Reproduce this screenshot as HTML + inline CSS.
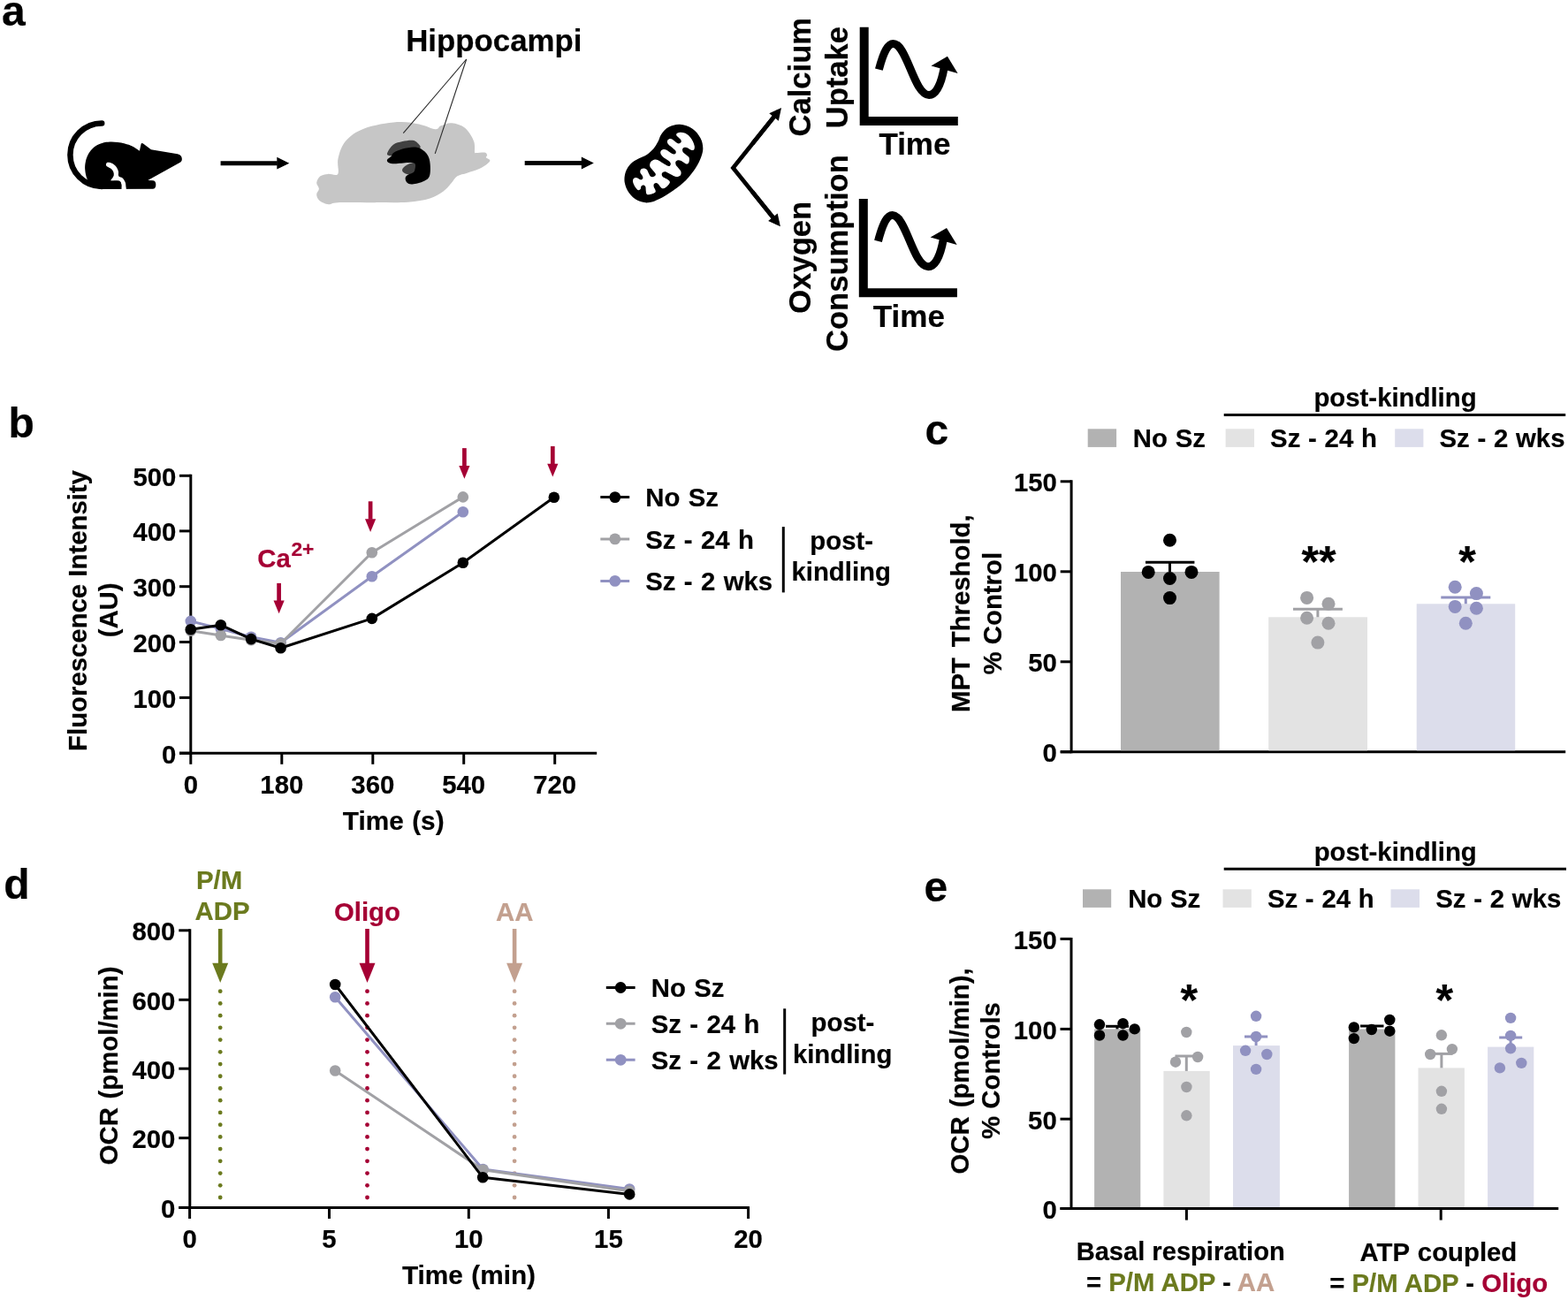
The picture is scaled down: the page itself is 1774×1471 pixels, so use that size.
<!DOCTYPE html>
<html lang="en">
<head>
<meta charset="utf-8">
<title>Figure: mitochondrial calcium uptake and oxygen consumption</title>
<style>
html,body{margin:0;padding:0;background:#fff;}
body{width:1774px;height:1471px;overflow:hidden;}
svg{display:block;}
svg text{font-family:"Liberation Sans", sans-serif;font-weight:bold;stroke-width:0.2px;stroke-linejoin:round;}
</style>
</head>
<body>
<svg width="1774" height="1471" viewBox="0 0 1774 1471">
<rect width="1774" height="1471" fill="#fff"/>
<text x="1.90" y="28.50" font-size="48" text-anchor="start" fill="#000" stroke="#000">a</text>
<text x="9.50" y="495.00" font-size="48" text-anchor="start" fill="#000" stroke="#000">b</text>
<text x="1046.50" y="502.50" font-size="48" text-anchor="start" fill="#000" stroke="#000">c</text>
<text x="4.30" y="1016.90" font-size="48" text-anchor="start" fill="#000" stroke="#000">d</text>
<text x="1045.60" y="1019.80" font-size="48" text-anchor="start" fill="#000" stroke="#000">e</text>
<path d="M115.2,139.4 A35.8,35.8 0 0 0 115.2,211" fill="none" stroke="#000" stroke-width="6.5" stroke-linecap="round"/>
<path d="M114.11,214.07 C112.61,213.57 107.65,212.94 105.10,211.09 C102.54,209.24 100.26,206.13 98.78,202.98 C97.31,199.82 96.59,195.46 96.26,192.15 C95.93,188.85 96.15,186.14 96.80,183.13 C97.44,180.13 98.53,176.90 100.14,174.11 C101.74,171.33 103.89,168.48 106.45,166.45 C109.00,164.42 112.46,162.92 115.47,161.94 C118.47,160.96 121.56,160.74 124.49,160.59 C127.42,160.44 130.27,160.71 133.06,161.04 C135.84,161.37 138.32,161.79 141.17,162.57 C144.03,163.35 147.41,164.37 150.19,165.73 C152.97,167.08 156.58,169.86 157.86,170.69 L159.48,163.47 Q159.88,161.34 162.00,162.54 L170.94,169.15 L199.35,173.93 C203.85,174.73 205.84,176.48 205.84,179.98 C205.84,182.48 204.95,183.02 202.95,184.22 L167.33,203.88 L172.74,204.33 Q176.35,204.33 176.35,209.02 Q176.35,213.80 172.74,213.80 L114.11,214.07 Z" fill="#000"/>
<path d="M122.41,183.86 C123.57,183.89 125.64,184.26 127.19,185.12 C128.74,185.98 130.57,187.52 131.70,189.00 C132.83,190.47 133.54,192.26 133.96,193.96 C134.38,195.66 133.45,197.94 134.23,199.19 C135.01,200.44 137.40,200.29 138.65,201.44 C139.89,202.60 141.08,204.52 141.71,206.13 C142.34,207.74 142.31,209.67 142.44,211.09 C142.56,212.52 143.19,214.10 142.44,214.70 C141.68,215.30 138.74,215.45 137.93,214.70 C137.11,213.95 137.78,211.51 137.56,210.19 C137.35,208.87 137.14,207.67 136.66,206.76 C136.18,205.86 135.73,205.17 134.68,204.78 C133.63,204.39 131.91,204.45 130.35,204.42 C128.79,204.39 125.82,205.07 125.30,204.60 C124.77,204.13 126.62,202.65 127.19,201.62 C127.76,200.60 128.53,199.59 128.73,198.47 C128.92,197.34 128.77,196.03 128.37,194.86 C127.96,193.69 127.24,192.36 126.29,191.43 C125.34,190.50 123.69,189.93 122.68,189.27 C121.68,188.61 120.65,188.18 120.25,187.46 C119.84,186.74 119.89,185.54 120.25,184.94 C120.61,184.34 121.26,183.83 122.41,183.86Z" fill="#fff"/>
<path d="M114.11,204.51 L133.51,204.51 Q137.29,204.51 137.29,209.29 Q137.29,214.07 133.51,214.07 L114.11,214.07 Z" fill="#000"/>
<line x1="249.60" y1="184.70" x2="313.80" y2="184.70" stroke="#000" stroke-width="4.9" stroke-linecap="butt"/>
<polygon points="313.30,177.80 327.30,184.70 313.30,191.60" fill="#000"/>
<line x1="593.70" y1="184.50" x2="658.30" y2="184.50" stroke="#000" stroke-width="4.9" stroke-linecap="butt"/>
<polygon points="657.80,177.60 671.80,184.50 657.80,191.40" fill="#000"/>
<path d="M382.24,196.89 C384.15,194.00 381.04,185.73 382.49,179.53 C383.94,173.33 386.01,165.37 390.92,159.68 C395.84,154.00 402.29,149.02 412.01,145.42 C421.72,141.83 438.88,138.93 449.21,138.11 C459.55,137.28 466.78,139.10 474.01,140.46 C481.25,141.83 488.48,145.98 492.62,146.29 C496.75,146.60 495.72,143.50 498.82,142.32 C501.92,141.14 506.67,138.81 511.22,139.22 C515.77,139.64 521.97,141.39 526.10,144.80 C530.23,148.21 534.20,155.14 536.02,159.68 C537.84,164.23 536.60,169.85 537.01,172.09 C537.43,174.32 536.60,173.00 538.50,173.08 C540.40,173.16 546.31,172.17 548.42,172.58 C550.53,173.00 550.90,174.61 551.15,175.56 C551.40,176.51 549.37,177.32 549.91,178.29 C550.45,179.26 554.21,180.15 554.38,181.39 C554.54,182.63 552.93,184.14 550.90,185.73 C548.88,187.32 545.94,189.28 542.22,190.94 C538.50,192.59 532.71,194.24 528.58,195.65 C524.45,197.05 520.52,197.30 517.42,199.37 C514.32,201.44 512.67,205.16 509.98,208.05 C507.29,210.94 505.22,214.00 501.30,216.73 C497.37,219.46 493.03,222.41 486.42,224.42 C479.80,226.42 471.95,227.97 461.61,228.76 C451.28,229.55 437.64,229.07 424.41,229.13 C411.18,229.19 391.03,228.78 382.24,229.13 C373.46,229.48 375.22,231.65 371.70,231.24 C368.19,230.83 363.41,228.55 361.16,226.65 C358.91,224.75 358.23,222.00 358.18,219.83 C358.14,217.66 360.91,215.80 360.91,213.63 C360.91,211.46 357.94,209.19 358.18,206.81 C358.43,204.43 360.25,201.02 362.40,199.37 C364.55,197.72 367.78,197.30 371.08,196.89 C374.39,196.48 380.34,199.78 382.24,196.89Z" fill="#C6C6C6"/>
<path d="M438.30,172.71 C439.23,170.68 442.02,165.78 444.87,163.65 C447.72,161.52 451.79,160.76 455.41,159.93 C459.03,159.11 463.78,158.42 466.57,158.69 C469.36,158.96 470.71,160.04 472.15,161.54 C473.60,163.05 477.01,165.99 475.25,167.75 C473.50,169.50 466.78,170.74 461.61,172.09 C456.45,173.43 447.97,175.19 444.25,175.81 C440.53,176.43 440.28,176.32 439.29,175.81 C438.30,175.29 437.37,174.73 438.30,172.71Z" fill="#414141"/>
<path d="M455.41,190.94 C456.28,189.43 459.17,187.05 461.61,185.98 C464.05,184.90 468.64,183.08 470.05,184.49 C471.45,185.89 471.35,192.30 470.05,194.41 C468.74,196.52 464.51,197.03 462.23,197.14 C459.96,197.24 457.54,196.06 456.40,195.03 C455.27,194.00 454.54,192.44 455.41,190.94Z" fill="#414141"/>
<path d="M438.05,180.77 C438.53,179.61 441.15,178.39 442.39,177.05 C443.63,175.70 443.32,174.11 445.49,172.71 C447.66,171.30 451.69,169.65 455.41,168.61 C459.13,167.58 464.30,166.51 467.81,166.51 C471.33,166.51 473.81,167.06 476.49,168.61 C479.18,170.16 482.24,172.95 483.94,175.81 C485.63,178.66 486.33,181.80 486.66,185.73 C486.99,189.65 487.10,196.17 485.92,199.37 C484.74,202.57 482.82,203.44 479.59,204.95 C476.37,206.46 469.78,208.17 466.57,208.42 C463.37,208.67 461.70,207.64 460.37,206.44 C459.05,205.24 458.43,202.68 458.64,201.23 C458.84,199.78 460.08,198.79 461.61,197.76 C463.14,196.72 466.45,196.37 467.81,195.03 C469.18,193.69 469.59,191.41 469.80,189.70 C470.00,187.98 470.42,185.69 469.05,184.74 C467.69,183.78 465.33,183.91 461.61,183.99 C457.89,184.07 450.41,185.23 446.73,185.23 C443.05,185.23 440.99,184.74 439.54,183.99 C438.09,183.25 437.57,181.92 438.05,180.77Z" fill="#000"/>
<line x1="527.70" y1="67.00" x2="456.30" y2="150.60" stroke="#2a2a2a" stroke-width="1.1" stroke-linecap="butt"/>
<line x1="527.70" y1="67.00" x2="492.20" y2="173.90" stroke="#2a2a2a" stroke-width="1.1" stroke-linecap="butt"/>
<text x="459.20" y="57.90" font-size="34.85" text-anchor="start" fill="#000" stroke="#000">Hippocampi</text>
<path d="M769.29,140.85 C773.78,141.16 779.64,143.15 783.50,145.71 C787.36,148.26 790.51,152.56 792.48,156.18 C794.45,159.80 795.19,163.78 795.32,167.40 C795.44,171.02 794.57,174.13 793.22,177.87 C791.88,181.61 790.11,185.48 787.24,189.84 C784.37,194.20 780.38,199.69 776.02,204.05 C771.66,208.42 766.05,212.53 761.06,216.02 C756.07,219.51 750.71,222.78 746.10,225.00 C741.49,227.21 737.50,229.02 733.38,229.33 C729.27,229.65 725.03,228.71 721.42,226.87 C717.80,225.02 714.15,221.69 711.69,218.26 C709.24,214.84 707.30,210.29 706.68,206.30 C706.06,202.31 706.74,197.88 707.95,194.33 C709.16,190.77 711.44,187.47 713.94,184.98 C716.43,182.48 719.92,181.05 722.91,179.37 C725.90,177.68 729.15,176.75 731.89,174.88 C734.63,173.01 737.25,170.64 739.37,168.15 C741.49,165.65 743.11,162.66 744.60,159.92 C746.10,157.18 746.35,154.37 748.34,151.69 C750.34,149.01 753.08,145.65 756.57,143.84 C760.06,142.03 764.80,140.53 769.29,140.85Z" fill="#000"/>
<path d="M765.55,151.32 C766.20,150.76 767.79,149.95 769.29,149.82 C770.78,149.70 772.78,149.88 774.52,150.57 C776.27,151.26 778.26,152.50 779.76,153.94 C781.26,155.37 782.50,157.30 783.50,159.17 C784.50,161.04 785.43,163.54 785.74,165.16 C786.06,166.78 785.74,168.09 785.37,168.90 C785.00,169.71 784.31,170.02 783.50,170.02 C782.69,170.02 781.63,169.39 780.51,168.90 C779.39,168.40 777.89,167.34 776.77,167.03 C775.65,166.71 774.55,166.71 773.78,167.03 C773.00,167.34 772.32,168.09 772.13,168.90 C771.94,169.71 772.01,170.89 772.65,171.89 C773.30,172.89 774.90,173.88 776.02,174.88 C777.14,175.88 778.76,176.63 779.39,177.87 C780.01,179.12 779.95,181.11 779.76,182.36 C779.57,183.61 779.01,184.92 778.26,185.35 C777.52,185.79 776.52,185.54 775.27,184.98 C774.03,184.42 772.16,182.61 770.78,181.99 C769.41,181.36 768.10,181.05 767.04,181.24 C765.98,181.42 764.80,182.17 764.43,183.11 C764.05,184.04 764.24,185.60 764.80,186.85 C765.36,188.09 766.86,189.34 767.79,190.59 C768.73,191.83 770.04,193.08 770.41,194.33 C770.78,195.57 770.60,197.13 770.04,198.07 C769.47,199.00 768.17,199.69 767.04,199.94 C765.92,200.19 764.92,200.12 763.30,199.56 C761.68,199.00 759.07,197.44 757.32,196.57 C755.57,195.70 754.08,194.58 752.83,194.33 C751.59,194.08 750.53,194.58 749.84,195.08 C749.15,195.57 748.72,196.51 748.72,197.32 C748.72,198.13 748.90,199.07 749.84,199.94 C750.77,200.81 753.08,201.75 754.33,202.56 C755.57,203.37 756.76,204.05 757.32,204.80 C757.88,205.55 758.07,206.11 757.69,207.04 C757.32,207.98 756.14,209.41 755.08,210.41 C754.02,211.41 752.46,212.65 751.34,213.03 C750.21,213.40 749.22,213.15 748.34,212.65 C747.47,212.16 746.79,210.85 746.10,210.04 C745.41,209.23 744.92,208.29 744.23,207.79 C743.54,207.29 742.73,206.92 741.99,207.04 C741.24,207.17 740.12,207.79 739.74,208.54 C739.37,209.29 739.49,210.53 739.74,211.53 C739.99,212.53 740.93,213.59 741.24,214.52 C741.55,215.46 742.05,216.39 741.61,217.14 C741.18,217.89 739.87,218.49 738.62,219.01 C737.37,219.54 735.32,220.22 734.13,220.28 C732.95,220.35 732.07,220.10 731.51,219.39 C730.95,218.68 730.95,217.33 730.77,216.02 C730.58,214.71 730.70,212.59 730.39,211.53 C730.08,210.47 729.52,209.97 728.90,209.66 C728.27,209.35 727.28,209.35 726.65,209.66 C726.03,209.97 725.47,210.85 725.16,211.53 C724.84,212.22 725.16,213.18 724.78,213.78 C724.41,214.37 723.60,215.06 722.91,215.12 C722.23,215.18 721.54,215.00 720.67,214.15 C719.80,213.30 718.45,211.47 717.68,210.04 C716.90,208.60 716.22,206.79 716.03,205.55 C715.84,204.30 716.09,203.30 716.55,202.56 C717.02,201.81 717.99,201.25 718.80,201.06 C719.61,200.87 720.61,201.12 721.42,201.43 C722.23,201.75 722.91,202.62 723.66,202.93 C724.41,203.24 725.28,203.55 725.90,203.30 C726.53,203.05 727.28,202.18 727.40,201.43 C727.52,200.69 727.13,199.75 726.65,198.82 C726.18,197.88 724.93,196.76 724.56,195.82 C724.18,194.89 724.18,194.02 724.41,193.21 C724.63,192.40 725.16,191.42 725.90,190.96 C726.65,190.50 727.90,190.25 728.90,190.44 C729.89,190.63 731.08,191.19 731.89,192.08 C732.70,192.98 733.13,194.64 733.76,195.82 C734.38,197.01 734.88,198.44 735.63,199.19 C736.38,199.94 737.31,200.37 738.25,200.31 C739.18,200.25 740.68,199.44 741.24,198.82 C741.80,198.19 742.05,197.57 741.61,196.57 C741.18,195.57 739.62,194.08 738.62,192.83 C737.62,191.59 736.19,190.28 735.63,189.09 C735.07,187.91 735.00,186.85 735.25,185.73 C735.50,184.60 736.19,183.23 737.12,182.36 C738.06,181.49 739.62,180.68 740.86,180.49 C742.11,180.30 743.11,180.55 744.60,181.24 C746.10,181.92 748.22,183.61 749.84,184.60 C751.46,185.60 753.08,186.66 754.33,187.22 C755.57,187.78 756.57,188.22 757.32,187.97 C758.07,187.72 758.75,186.54 758.82,185.73 C758.88,184.92 758.57,184.04 757.69,183.11 C756.82,182.17 755.01,181.24 753.58,180.12 C752.15,178.99 750.15,177.56 749.09,176.38 C748.03,175.19 747.35,174.07 747.22,173.01 C747.10,171.95 747.66,170.70 748.34,170.02 C749.03,169.33 750.28,168.90 751.34,168.90 C752.40,168.90 753.46,169.33 754.70,170.02 C755.95,170.70 757.57,172.26 758.82,173.01 C760.06,173.76 761.25,174.44 762.18,174.51 C763.12,174.57 764.05,174.01 764.43,173.38 C764.80,172.76 764.99,171.76 764.43,170.77 C763.86,169.77 762.37,168.58 761.06,167.40 C759.75,166.22 757.59,164.78 756.57,163.66 C755.55,162.54 755.05,161.60 754.93,160.67 C754.80,159.73 755.18,158.67 755.82,158.05 C756.47,157.43 757.82,156.87 758.82,156.93 C759.81,156.99 760.81,157.74 761.81,158.42 C762.81,159.11 763.80,160.36 764.80,161.04 C765.80,161.73 766.86,162.54 767.79,162.54 C768.73,162.54 769.97,161.73 770.41,161.04 C770.85,160.36 770.97,159.42 770.41,158.42 C769.85,157.43 767.88,155.93 767.04,155.06 C766.21,154.19 765.65,153.81 765.40,153.19 C765.15,152.56 764.90,151.88 765.55,151.32Z" fill="#fff"/>
<path d="M881,125.5 L829.4,190 L880,252.8" fill="none" stroke="#000" stroke-width="4.7" stroke-linejoin="miter"/>
<line x1="851.40" y1="162.50" x2="875.86" y2="132.04" stroke="#000" stroke-width="4.7" stroke-linecap="butt"/>
<polygon points="880.85,136.68 884.00,121.90 870.25,128.17" fill="#000"/>
<line x1="851.20" y1="217.10" x2="874.73" y2="246.19" stroke="#000" stroke-width="4.7" stroke-linecap="butt"/>
<polygon points="869.12,250.08 882.90,256.30 879.70,241.53" fill="#000"/>
<path d="M977.70,30.70 V137.05 H1083.80" fill="none" stroke="#000" stroke-width="10"/>
<path d="M994.40,78.70 C1000.00,57.00 1005.00,49.40 1010.60,49.40 C1026.00,49.40 1034.00,107.50 1051.10,107.50 C1060.00,107.50 1065.50,92.00 1068.30,76.00" fill="none" stroke="#000" stroke-width="9"/>
<polygon points="1071.90,63.80 1053.50,74.40 1083.60,82.90" fill="#000"/>
<path d="M976.80,224.90 V331.25 H1082.90" fill="none" stroke="#000" stroke-width="10"/>
<path d="M993.50,272.90 C999.10,251.20 1004.10,243.60 1009.70,243.60 C1025.10,243.60 1033.10,301.70 1050.20,301.70 C1059.10,301.70 1064.60,286.20 1067.40,270.20" fill="none" stroke="#000" stroke-width="9"/>
<polygon points="1071.00,258.00 1052.60,268.60 1082.70,277.10" fill="#000"/>
<text x="994.40" y="175.30" font-size="35" text-anchor="start" fill="#000" stroke="#000">Time</text>
<text x="987.80" y="370.30" font-size="35" text-anchor="start" fill="#000" stroke="#000">Time</text>
<text transform="translate(917.30 154.50) rotate(-90)" font-size="34.6" text-anchor="start" fill="#000" stroke="#000">Calcium</text>
<text transform="translate(958.70 145.30) rotate(-90)" font-size="34.6" text-anchor="start" fill="#000" stroke="#000">Uptake</text>
<text transform="translate(916.70 354.70) rotate(-90)" font-size="34.6" text-anchor="start" fill="#000" stroke="#000">Oxygen</text>
<text transform="translate(958.80 398.00) rotate(-90)" font-size="34.6" text-anchor="start" fill="#000" stroke="#000">Consumption</text>
<line x1="215.80" y1="536.80" x2="215.80" y2="853.70" stroke="#000" stroke-width="3" stroke-linecap="butt"/>
<line x1="203.00" y1="538.30" x2="215.80" y2="538.30" stroke="#000" stroke-width="3" stroke-linecap="butt"/>
<text transform="translate(199.30 549.75) scale(1 1.02)" font-size="29.33" text-anchor="end" fill="#000" stroke="#000">500</text>
<line x1="203.00" y1="600.90" x2="215.80" y2="600.90" stroke="#000" stroke-width="3" stroke-linecap="butt"/>
<text transform="translate(199.30 612.35) scale(1 1.02)" font-size="29.33" text-anchor="end" fill="#000" stroke="#000">400</text>
<line x1="203.00" y1="663.70" x2="215.80" y2="663.70" stroke="#000" stroke-width="3" stroke-linecap="butt"/>
<text transform="translate(199.30 675.15) scale(1 1.02)" font-size="29.33" text-anchor="end" fill="#000" stroke="#000">300</text>
<line x1="203.00" y1="726.50" x2="215.80" y2="726.50" stroke="#000" stroke-width="3" stroke-linecap="butt"/>
<text transform="translate(199.30 737.95) scale(1 1.02)" font-size="29.33" text-anchor="end" fill="#000" stroke="#000">200</text>
<line x1="203.00" y1="789.40" x2="215.80" y2="789.40" stroke="#000" stroke-width="3" stroke-linecap="butt"/>
<text transform="translate(199.30 800.85) scale(1 1.02)" font-size="29.33" text-anchor="end" fill="#000" stroke="#000">100</text>
<line x1="203.00" y1="852.20" x2="215.80" y2="852.20" stroke="#000" stroke-width="3" stroke-linecap="butt"/>
<text transform="translate(199.30 863.65) scale(1 1.02)" font-size="29.33" text-anchor="end" fill="#000" stroke="#000">0</text>
<line x1="203.00" y1="852.20" x2="675.20" y2="852.20" stroke="#000" stroke-width="3" stroke-linecap="butt"/>
<line x1="215.80" y1="852.20" x2="215.80" y2="864.80" stroke="#000" stroke-width="3" stroke-linecap="butt"/>
<text transform="translate(215.80 897.60) scale(1 1.02)" font-size="29.33" text-anchor="middle" fill="#000" stroke="#000">0</text>
<line x1="318.80" y1="852.20" x2="318.80" y2="864.80" stroke="#000" stroke-width="3" stroke-linecap="butt"/>
<text transform="translate(318.80 897.60) scale(1 1.02)" font-size="29.33" text-anchor="middle" fill="#000" stroke="#000">180</text>
<line x1="421.80" y1="852.20" x2="421.80" y2="864.80" stroke="#000" stroke-width="3" stroke-linecap="butt"/>
<text transform="translate(421.80 897.60) scale(1 1.02)" font-size="29.33" text-anchor="middle" fill="#000" stroke="#000">360</text>
<line x1="524.70" y1="852.20" x2="524.70" y2="864.80" stroke="#000" stroke-width="3" stroke-linecap="butt"/>
<text transform="translate(524.70 897.60) scale(1 1.02)" font-size="29.33" text-anchor="middle" fill="#000" stroke="#000">540</text>
<line x1="627.70" y1="852.20" x2="627.70" y2="864.80" stroke="#000" stroke-width="3" stroke-linecap="butt"/>
<text transform="translate(627.70 897.60) scale(1 1.02)" font-size="29.33" text-anchor="middle" fill="#000" stroke="#000">720</text>
<text x="445.20" y="939.20" font-size="29.75" text-anchor="middle" fill="#000" stroke="#000" word-spacing="1.2">Time (s)</text>
<text transform="translate(97.50 691.00) rotate(-90)" font-size="29.33" text-anchor="middle" fill="#000" stroke="#000">Fluorescence Intensity</text>
<text transform="translate(133.00 690.40) rotate(-90)" font-size="29.33" text-anchor="middle" fill="#000" stroke="#000">(AU)</text>
<polyline points="215.80,702.90 249.80,711.50 284.10,720.80 317.60,727.20 420.80,652.30 523.80,579.30" fill="none" stroke="#9091C1" stroke-width="3" stroke-linejoin="round"/>
<circle cx="215.80" cy="702.90" r="6.3" fill="#9091C1"/>
<circle cx="249.80" cy="711.50" r="6.3" fill="#9091C1"/>
<circle cx="284.10" cy="720.80" r="6.3" fill="#9091C1"/>
<circle cx="317.60" cy="727.20" r="6.3" fill="#9091C1"/>
<circle cx="420.80" cy="652.30" r="6.3" fill="#9091C1"/>
<circle cx="523.80" cy="579.30" r="6.3" fill="#9091C1"/>
<polyline points="215.80,713.80 249.80,719.00 284.10,724.30 317.60,728.30 420.80,625.20 523.80,562.40" fill="none" stroke="#A1A1A5" stroke-width="3" stroke-linejoin="round"/>
<circle cx="215.80" cy="713.80" r="6.3" fill="#A1A1A5"/>
<circle cx="249.80" cy="719.00" r="6.3" fill="#A1A1A5"/>
<circle cx="284.10" cy="724.30" r="6.3" fill="#A1A1A5"/>
<circle cx="317.60" cy="728.30" r="6.3" fill="#A1A1A5"/>
<circle cx="420.80" cy="625.20" r="6.3" fill="#A1A1A5"/>
<circle cx="523.80" cy="562.40" r="6.3" fill="#A1A1A5"/>
<polyline points="215.80,712.30 249.80,707.20 284.10,723.10 317.60,733.30 420.80,699.90 523.80,636.80 626.80,562.80" fill="none" stroke="#000" stroke-width="3" stroke-linejoin="round"/>
<circle cx="215.80" cy="712.30" r="6.3" fill="#000"/>
<circle cx="249.80" cy="707.20" r="6.3" fill="#000"/>
<circle cx="284.10" cy="723.10" r="6.3" fill="#000"/>
<circle cx="317.60" cy="733.30" r="6.3" fill="#000"/>
<circle cx="420.80" cy="699.90" r="6.3" fill="#000"/>
<circle cx="523.80" cy="636.80" r="6.3" fill="#000"/>
<circle cx="626.80" cy="562.80" r="6.3" fill="#000"/>
<line x1="315.60" y1="659.90" x2="315.60" y2="680.00" stroke="#A50034" stroke-width="4.7" stroke-linecap="butt"/>
<polygon points="309.50,679.50 321.70,679.50 315.60,694.30" fill="#A50034"/>
<line x1="419.10" y1="567.30" x2="419.10" y2="587.70" stroke="#A50034" stroke-width="4.7" stroke-linecap="butt"/>
<polygon points="413.00,587.20 425.20,587.20 419.10,602.00" fill="#A50034"/>
<line x1="525.40" y1="507.10" x2="525.40" y2="527.50" stroke="#A50034" stroke-width="4.7" stroke-linecap="butt"/>
<polygon points="519.30,527.00 531.50,527.00 525.40,541.80" fill="#A50034"/>
<line x1="625.30" y1="504.90" x2="625.30" y2="525.30" stroke="#A50034" stroke-width="4.7" stroke-linecap="butt"/>
<polygon points="619.20,524.80 631.40,524.80 625.30,539.60" fill="#A50034"/>
<text x="291.3" y="642.4" font-size="29.33" fill="#A50034" stroke="#A50034">Ca<tspan font-size="22.8" dx="0.6" dy="-13.9">2+</tspan></text>
<line x1="679.30" y1="562.60" x2="712.20" y2="562.60" stroke="#000" stroke-width="3" stroke-linecap="butt"/>
<circle cx="695.80" cy="562.60" r="6.4" fill="#000"/>
<line x1="679.30" y1="609.90" x2="712.20" y2="609.90" stroke="#A1A1A5" stroke-width="3" stroke-linecap="butt"/>
<circle cx="695.80" cy="609.90" r="6.4" fill="#A1A1A5"/>
<line x1="679.30" y1="657.40" x2="712.20" y2="657.40" stroke="#9091C1" stroke-width="3" stroke-linecap="butt"/>
<circle cx="695.80" cy="657.40" r="6.4" fill="#9091C1"/>
<text x="730.30" y="573.00" font-size="29.33" text-anchor="start" fill="#000" stroke="#000" word-spacing="1.2">No Sz</text>
<text x="730.30" y="620.60" font-size="29.33" text-anchor="start" fill="#000" stroke="#000" word-spacing="1.2">Sz - 24 h</text>
<text x="730.30" y="667.70" font-size="29.33" text-anchor="start" fill="#000" stroke="#000" word-spacing="1.2">Sz - 2 wks</text>
<line x1="886.30" y1="596.10" x2="886.30" y2="670.40" stroke="#000" stroke-width="3" stroke-linecap="butt"/>
<text x="952.20" y="621.60" font-size="29.33" text-anchor="middle" fill="#000" stroke="#000">post-</text>
<text x="951.70" y="657.00" font-size="29.33" text-anchor="middle" fill="#000" stroke="#000">kindling</text>
<rect x="1230.70" y="485.30" width="32.40" height="20.60" fill="#B2B2B2"/>
<rect x="1386.60" y="485.30" width="32.40" height="20.60" fill="#E3E3E3"/>
<rect x="1578.20" y="485.30" width="32.20" height="20.60" fill="#DCDDEB"/>
<text x="1281.80" y="506.10" font-size="29.33" text-anchor="start" fill="#000" stroke="#000" word-spacing="0.6">No Sz</text>
<text x="1437.10" y="506.10" font-size="29.33" text-anchor="start" fill="#000" stroke="#000" word-spacing="0.6">Sz - 24 h</text>
<text x="1628.50" y="506.10" font-size="29.33" text-anchor="start" fill="#000" stroke="#000" word-spacing="0.6">Sz - 2 wks</text>
<line x1="1384.70" y1="469.50" x2="1771.20" y2="469.50" stroke="#000" stroke-width="3" stroke-linecap="butt"/>
<text x="1578.50" y="460.00" font-size="29.33" text-anchor="middle" fill="#000" stroke="#000">post-kindling</text>
<line x1="1212.10" y1="543.30" x2="1212.10" y2="852.30" stroke="#000" stroke-width="3" stroke-linecap="butt"/>
<line x1="1199.70" y1="544.80" x2="1212.10" y2="544.80" stroke="#000" stroke-width="3" stroke-linecap="butt"/>
<text transform="translate(1195.90 556.25) scale(1 1.02)" font-size="29.33" text-anchor="end" fill="#000" stroke="#000">150</text>
<line x1="1199.70" y1="646.80" x2="1212.10" y2="646.80" stroke="#000" stroke-width="3" stroke-linecap="butt"/>
<text transform="translate(1195.90 658.25) scale(1 1.02)" font-size="29.33" text-anchor="end" fill="#000" stroke="#000">100</text>
<line x1="1199.70" y1="748.80" x2="1212.10" y2="748.80" stroke="#000" stroke-width="3" stroke-linecap="butt"/>
<text transform="translate(1195.90 760.25) scale(1 1.02)" font-size="29.33" text-anchor="end" fill="#000" stroke="#000">50</text>
<line x1="1199.70" y1="850.80" x2="1212.10" y2="850.80" stroke="#000" stroke-width="3" stroke-linecap="butt"/>
<text transform="translate(1195.90 862.25) scale(1 1.02)" font-size="29.33" text-anchor="end" fill="#000" stroke="#000">0</text>
<line x1="1199.70" y1="850.80" x2="1771.20" y2="850.80" stroke="#000" stroke-width="3" stroke-linecap="butt"/>
<text transform="translate(1097.10 694.20) rotate(-90)" font-size="29.33" text-anchor="middle" fill="#000" stroke="#000" word-spacing="3.7">MPT Threshold,</text>
<text transform="translate(1132.80 694.20) rotate(-90)" font-size="29.33" text-anchor="middle" fill="#000" stroke="#000">% Control</text>
<rect x="1268.00" y="647.00" width="111.60" height="202.30" fill="#B2B2B2"/>
<rect x="1435.20" y="698.30" width="111.80" height="151.00" fill="#E3E3E3"/>
<rect x="1602.70" y="683.30" width="111.50" height="166.00" fill="#DCDDEB"/>
<line x1="1323.50" y1="636.20" x2="1323.50" y2="647.00" stroke="#000" stroke-width="3" stroke-linecap="butt"/>
<line x1="1296.00" y1="636.20" x2="1351.40" y2="636.20" stroke="#000" stroke-width="3" stroke-linecap="butt"/>
<line x1="1490.90" y1="689.20" x2="1490.90" y2="698.30" stroke="#A1A1A5" stroke-width="3" stroke-linecap="butt"/>
<line x1="1463.00" y1="689.20" x2="1518.90" y2="689.20" stroke="#A1A1A5" stroke-width="3" stroke-linecap="butt"/>
<line x1="1658.30" y1="676.10" x2="1658.30" y2="683.30" stroke="#9091C1" stroke-width="3" stroke-linecap="butt"/>
<line x1="1630.30" y1="676.10" x2="1686.30" y2="676.10" stroke="#9091C1" stroke-width="3" stroke-linecap="butt"/>
<circle cx="1323.50" cy="611.30" r="7.5" fill="#000"/>
<circle cx="1299.20" cy="647.40" r="7.5" fill="#000"/>
<circle cx="1348.00" cy="647.40" r="7.5" fill="#000"/>
<circle cx="1323.50" cy="654.50" r="7.5" fill="#000"/>
<circle cx="1323.50" cy="676.60" r="7.5" fill="#000"/>
<circle cx="1478.60" cy="676.40" r="7.5" fill="#A1A1A5"/>
<circle cx="1503.00" cy="683.30" r="7.5" fill="#A1A1A5"/>
<circle cx="1478.60" cy="699.20" r="7.5" fill="#A1A1A5"/>
<circle cx="1503.00" cy="705.30" r="7.5" fill="#A1A1A5"/>
<circle cx="1490.90" cy="727.10" r="7.5" fill="#A1A1A5"/>
<circle cx="1646.20" cy="664.20" r="7.5" fill="#9091C1"/>
<circle cx="1670.40" cy="671.60" r="7.5" fill="#9091C1"/>
<circle cx="1646.20" cy="686.40" r="7.5" fill="#9091C1"/>
<circle cx="1670.40" cy="688.30" r="7.5" fill="#9091C1"/>
<circle cx="1658.30" cy="705.30" r="7.5" fill="#9091C1"/>
<text x="1492.00" y="652.60" font-size="50.4" text-anchor="middle" fill="#000" stroke="#000">**</text>
<text x="1660.00" y="652.90" font-size="50.4" text-anchor="middle" fill="#000" stroke="#000">*</text>
<line x1="214.80" y1="1051.30" x2="214.80" y2="1367.90" stroke="#000" stroke-width="3" stroke-linecap="butt"/>
<line x1="202.30" y1="1052.80" x2="214.80" y2="1052.80" stroke="#000" stroke-width="3" stroke-linecap="butt"/>
<text transform="translate(198.30 1064.25) scale(1 1.02)" font-size="29.33" text-anchor="end" fill="#000" stroke="#000">800</text>
<line x1="202.30" y1="1131.30" x2="214.80" y2="1131.30" stroke="#000" stroke-width="3" stroke-linecap="butt"/>
<text transform="translate(198.30 1142.75) scale(1 1.02)" font-size="29.33" text-anchor="end" fill="#000" stroke="#000">600</text>
<line x1="202.30" y1="1209.20" x2="214.80" y2="1209.20" stroke="#000" stroke-width="3" stroke-linecap="butt"/>
<text transform="translate(198.30 1220.65) scale(1 1.02)" font-size="29.33" text-anchor="end" fill="#000" stroke="#000">400</text>
<line x1="202.30" y1="1287.70" x2="214.80" y2="1287.70" stroke="#000" stroke-width="3" stroke-linecap="butt"/>
<text transform="translate(198.30 1299.15) scale(1 1.02)" font-size="29.33" text-anchor="end" fill="#000" stroke="#000">200</text>
<line x1="202.30" y1="1366.40" x2="214.80" y2="1366.40" stroke="#000" stroke-width="3" stroke-linecap="butt"/>
<text transform="translate(198.30 1377.85) scale(1 1.02)" font-size="29.33" text-anchor="end" fill="#000" stroke="#000">0</text>
<line x1="202.30" y1="1366.40" x2="848.00" y2="1366.40" stroke="#000" stroke-width="3" stroke-linecap="butt"/>
<line x1="214.60" y1="1366.40" x2="214.60" y2="1379.00" stroke="#000" stroke-width="3" stroke-linecap="butt"/>
<text transform="translate(214.60 1411.70) scale(1 1.02)" font-size="29.33" text-anchor="middle" fill="#000" stroke="#000">0</text>
<line x1="372.50" y1="1366.40" x2="372.50" y2="1379.00" stroke="#000" stroke-width="3" stroke-linecap="butt"/>
<text transform="translate(372.50 1411.70) scale(1 1.02)" font-size="29.33" text-anchor="middle" fill="#000" stroke="#000">5</text>
<line x1="530.30" y1="1366.40" x2="530.30" y2="1379.00" stroke="#000" stroke-width="3" stroke-linecap="butt"/>
<text transform="translate(530.30 1411.70) scale(1 1.02)" font-size="29.33" text-anchor="middle" fill="#000" stroke="#000">10</text>
<line x1="688.40" y1="1366.40" x2="688.40" y2="1379.00" stroke="#000" stroke-width="3" stroke-linecap="butt"/>
<text transform="translate(688.40 1411.70) scale(1 1.02)" font-size="29.33" text-anchor="middle" fill="#000" stroke="#000">15</text>
<line x1="846.60" y1="1366.40" x2="846.60" y2="1379.00" stroke="#000" stroke-width="3" stroke-linecap="butt"/>
<text transform="translate(846.60 1411.70) scale(1 1.02)" font-size="29.33" text-anchor="middle" fill="#000" stroke="#000">20</text>
<text x="530.50" y="1453.20" font-size="29.75" text-anchor="middle" fill="#000" stroke="#000" word-spacing="1.2">Time (min)</text>
<text transform="translate(132.90 1205.90) rotate(-90)" font-size="29.33" text-anchor="middle" fill="#000" stroke="#000" word-spacing="1.5">OCR (pmol/min)</text>
<circle cx="249.20" cy="1121.70" r="2.4" fill="#6B7A1E"/>
<circle cx="249.20" cy="1135.42" r="2.4" fill="#6B7A1E"/>
<circle cx="249.20" cy="1149.15" r="2.4" fill="#6B7A1E"/>
<circle cx="249.20" cy="1162.87" r="2.4" fill="#6B7A1E"/>
<circle cx="249.20" cy="1176.59" r="2.4" fill="#6B7A1E"/>
<circle cx="249.20" cy="1190.32" r="2.4" fill="#6B7A1E"/>
<circle cx="249.20" cy="1204.04" r="2.4" fill="#6B7A1E"/>
<circle cx="249.20" cy="1217.76" r="2.4" fill="#6B7A1E"/>
<circle cx="249.20" cy="1231.49" r="2.4" fill="#6B7A1E"/>
<circle cx="249.20" cy="1245.21" r="2.4" fill="#6B7A1E"/>
<circle cx="249.20" cy="1258.94" r="2.4" fill="#6B7A1E"/>
<circle cx="249.20" cy="1272.66" r="2.4" fill="#6B7A1E"/>
<circle cx="249.20" cy="1286.38" r="2.4" fill="#6B7A1E"/>
<circle cx="249.20" cy="1300.11" r="2.4" fill="#6B7A1E"/>
<circle cx="249.20" cy="1313.83" r="2.4" fill="#6B7A1E"/>
<circle cx="249.20" cy="1327.55" r="2.4" fill="#6B7A1E"/>
<circle cx="249.20" cy="1341.28" r="2.4" fill="#6B7A1E"/>
<circle cx="249.20" cy="1355.00" r="2.4" fill="#6B7A1E"/>
<line x1="249.20" y1="1051.00" x2="249.20" y2="1090.20" stroke="#6B7A1E" stroke-width="4.6" stroke-linecap="butt"/>
<polygon points="240.20,1089.70 258.20,1089.70 249.20,1112.00" fill="#6B7A1E"/>
<circle cx="415.50" cy="1121.70" r="2.4" fill="#A50034"/>
<circle cx="415.50" cy="1135.42" r="2.4" fill="#A50034"/>
<circle cx="415.50" cy="1149.15" r="2.4" fill="#A50034"/>
<circle cx="415.50" cy="1162.87" r="2.4" fill="#A50034"/>
<circle cx="415.50" cy="1176.59" r="2.4" fill="#A50034"/>
<circle cx="415.50" cy="1190.32" r="2.4" fill="#A50034"/>
<circle cx="415.50" cy="1204.04" r="2.4" fill="#A50034"/>
<circle cx="415.50" cy="1217.76" r="2.4" fill="#A50034"/>
<circle cx="415.50" cy="1231.49" r="2.4" fill="#A50034"/>
<circle cx="415.50" cy="1245.21" r="2.4" fill="#A50034"/>
<circle cx="415.50" cy="1258.94" r="2.4" fill="#A50034"/>
<circle cx="415.50" cy="1272.66" r="2.4" fill="#A50034"/>
<circle cx="415.50" cy="1286.38" r="2.4" fill="#A50034"/>
<circle cx="415.50" cy="1300.11" r="2.4" fill="#A50034"/>
<circle cx="415.50" cy="1313.83" r="2.4" fill="#A50034"/>
<circle cx="415.50" cy="1327.55" r="2.4" fill="#A50034"/>
<circle cx="415.50" cy="1341.28" r="2.4" fill="#A50034"/>
<circle cx="415.50" cy="1355.00" r="2.4" fill="#A50034"/>
<line x1="415.50" y1="1051.00" x2="415.50" y2="1090.20" stroke="#A50034" stroke-width="4.6" stroke-linecap="butt"/>
<polygon points="406.50,1089.70 424.50,1089.70 415.50,1112.00" fill="#A50034"/>
<circle cx="582.10" cy="1121.70" r="2.4" fill="#C3A08F"/>
<circle cx="582.10" cy="1135.42" r="2.4" fill="#C3A08F"/>
<circle cx="582.10" cy="1149.15" r="2.4" fill="#C3A08F"/>
<circle cx="582.10" cy="1162.87" r="2.4" fill="#C3A08F"/>
<circle cx="582.10" cy="1176.59" r="2.4" fill="#C3A08F"/>
<circle cx="582.10" cy="1190.32" r="2.4" fill="#C3A08F"/>
<circle cx="582.10" cy="1204.04" r="2.4" fill="#C3A08F"/>
<circle cx="582.10" cy="1217.76" r="2.4" fill="#C3A08F"/>
<circle cx="582.10" cy="1231.49" r="2.4" fill="#C3A08F"/>
<circle cx="582.10" cy="1245.21" r="2.4" fill="#C3A08F"/>
<circle cx="582.10" cy="1258.94" r="2.4" fill="#C3A08F"/>
<circle cx="582.10" cy="1272.66" r="2.4" fill="#C3A08F"/>
<circle cx="582.10" cy="1286.38" r="2.4" fill="#C3A08F"/>
<circle cx="582.10" cy="1300.11" r="2.4" fill="#C3A08F"/>
<circle cx="582.10" cy="1313.83" r="2.4" fill="#C3A08F"/>
<circle cx="582.10" cy="1327.55" r="2.4" fill="#C3A08F"/>
<circle cx="582.10" cy="1341.28" r="2.4" fill="#C3A08F"/>
<circle cx="582.10" cy="1355.00" r="2.4" fill="#C3A08F"/>
<line x1="582.10" y1="1051.00" x2="582.10" y2="1090.20" stroke="#C3A08F" stroke-width="4.6" stroke-linecap="butt"/>
<polygon points="573.10,1089.70 591.10,1089.70 582.10,1112.00" fill="#C3A08F"/>
<text x="248.00" y="1005.90" font-size="29.33" text-anchor="middle" fill="#6B7A1E" stroke="#6B7A1E">P/M</text>
<text x="251.50" y="1040.80" font-size="29.33" text-anchor="middle" fill="#6B7A1E" stroke="#6B7A1E">ADP</text>
<text x="415.50" y="1041.60" font-size="29.33" text-anchor="middle" fill="#A50034" stroke="#A50034">Oligo</text>
<text x="582.20" y="1041.60" font-size="29.33" text-anchor="middle" fill="#C3A08F" stroke="#C3A08F">AA</text>
<polyline points="379.20,1128.30 546.40,1323.00 712.20,1345.50" fill="none" stroke="#9091C1" stroke-width="3" stroke-linejoin="round"/>
<circle cx="379.20" cy="1128.30" r="6.3" fill="#9091C1"/>
<circle cx="546.40" cy="1323.00" r="6.3" fill="#9091C1"/>
<circle cx="712.20" cy="1345.50" r="6.3" fill="#9091C1"/>
<polyline points="379.20,1211.50 546.60,1323.70 712.00,1347.80" fill="none" stroke="#A1A1A5" stroke-width="3" stroke-linejoin="round"/>
<circle cx="379.20" cy="1211.50" r="6.3" fill="#A1A1A5"/>
<circle cx="546.60" cy="1323.70" r="6.3" fill="#A1A1A5"/>
<circle cx="712.00" cy="1347.80" r="6.3" fill="#A1A1A5"/>
<polyline points="379.20,1114.00 546.20,1332.30 712.20,1351.40" fill="none" stroke="#000" stroke-width="3" stroke-linejoin="round"/>
<circle cx="379.20" cy="1114.00" r="6.3" fill="#000"/>
<circle cx="546.20" cy="1332.30" r="6.3" fill="#000"/>
<circle cx="712.20" cy="1351.40" r="6.3" fill="#000"/>
<line x1="685.80" y1="1117.50" x2="718.60" y2="1117.50" stroke="#000" stroke-width="3" stroke-linecap="butt"/>
<circle cx="702.20" cy="1117.50" r="6.4" fill="#000"/>
<line x1="685.80" y1="1158.30" x2="718.60" y2="1158.30" stroke="#A1A1A5" stroke-width="3" stroke-linecap="butt"/>
<circle cx="702.20" cy="1158.30" r="6.4" fill="#A1A1A5"/>
<line x1="685.80" y1="1199.30" x2="718.60" y2="1199.30" stroke="#9091C1" stroke-width="3" stroke-linecap="butt"/>
<circle cx="702.20" cy="1199.30" r="6.4" fill="#9091C1"/>
<text x="736.80" y="1127.90" font-size="29.33" text-anchor="start" fill="#000" stroke="#000" word-spacing="1.2">No Sz</text>
<text x="736.80" y="1168.90" font-size="29.33" text-anchor="start" fill="#000" stroke="#000" word-spacing="1.2">Sz - 24 h</text>
<text x="736.80" y="1209.90" font-size="29.33" text-anchor="start" fill="#000" stroke="#000" word-spacing="1.2">Sz - 2 wks</text>
<line x1="887.70" y1="1141.30" x2="887.70" y2="1215.60" stroke="#000" stroke-width="3" stroke-linecap="butt"/>
<text x="953.40" y="1167.20" font-size="29.33" text-anchor="middle" fill="#000" stroke="#000">post-</text>
<text x="953.10" y="1202.60" font-size="29.33" text-anchor="middle" fill="#000" stroke="#000">kindling</text>
<rect x="1225.00" y="1006.30" width="32.20" height="20.60" fill="#B2B2B2"/>
<rect x="1383.50" y="1006.30" width="32.30" height="20.60" fill="#E3E3E3"/>
<rect x="1573.50" y="1006.30" width="32.50" height="20.60" fill="#DCDDEB"/>
<text x="1276.20" y="1026.80" font-size="29.33" text-anchor="start" fill="#000" stroke="#000" word-spacing="0.6">No Sz</text>
<text x="1433.90" y="1026.80" font-size="29.33" text-anchor="start" fill="#000" stroke="#000" word-spacing="0.6">Sz - 24 h</text>
<text x="1624.30" y="1026.80" font-size="29.33" text-anchor="start" fill="#000" stroke="#000" word-spacing="0.6">Sz - 2 wks</text>
<line x1="1384.70" y1="983.20" x2="1772.00" y2="983.20" stroke="#000" stroke-width="3" stroke-linecap="butt"/>
<text x="1578.70" y="973.90" font-size="29.33" text-anchor="middle" fill="#000" stroke="#000">post-kindling</text>
<line x1="1212.00" y1="1060.90" x2="1212.00" y2="1369.00" stroke="#000" stroke-width="3" stroke-linecap="butt"/>
<line x1="1199.50" y1="1062.40" x2="1212.00" y2="1062.40" stroke="#000" stroke-width="3" stroke-linecap="butt"/>
<text transform="translate(1195.70 1073.85) scale(1 1.02)" font-size="29.33" text-anchor="end" fill="#000" stroke="#000">150</text>
<line x1="1199.50" y1="1164.40" x2="1212.00" y2="1164.40" stroke="#000" stroke-width="3" stroke-linecap="butt"/>
<text transform="translate(1195.70 1175.85) scale(1 1.02)" font-size="29.33" text-anchor="end" fill="#000" stroke="#000">100</text>
<line x1="1199.50" y1="1266.20" x2="1212.00" y2="1266.20" stroke="#000" stroke-width="3" stroke-linecap="butt"/>
<text transform="translate(1195.70 1277.65) scale(1 1.02)" font-size="29.33" text-anchor="end" fill="#000" stroke="#000">50</text>
<line x1="1199.50" y1="1367.50" x2="1212.00" y2="1367.50" stroke="#000" stroke-width="3" stroke-linecap="butt"/>
<text transform="translate(1195.70 1378.95) scale(1 1.02)" font-size="29.33" text-anchor="end" fill="#000" stroke="#000">0</text>
<line x1="1199.50" y1="1367.50" x2="1763.20" y2="1367.50" stroke="#000" stroke-width="3" stroke-linecap="butt"/>
<line x1="1342.40" y1="1367.50" x2="1342.40" y2="1380.60" stroke="#000" stroke-width="3" stroke-linecap="butt"/>
<line x1="1630.20" y1="1367.50" x2="1630.20" y2="1380.60" stroke="#000" stroke-width="3" stroke-linecap="butt"/>
<text transform="translate(1095.50 1211.90) rotate(-90)" font-size="29.33" text-anchor="middle" fill="#000" stroke="#000" word-spacing="1.8">OCR (pmol/min),</text>
<text transform="translate(1131.30 1211.50) rotate(-90)" font-size="29.33" text-anchor="middle" fill="#000" stroke="#000">% Controls</text>
<rect x="1238.10" y="1164.40" width="52.20" height="201.60" fill="#B2B2B2"/>
<rect x="1316.40" y="1211.90" width="52.30" height="154.10" fill="#E3E3E3"/>
<rect x="1395.00" y="1183.10" width="52.90" height="182.90" fill="#DCDDEB"/>
<rect x="1526.10" y="1164.50" width="52.30" height="201.50" fill="#B2B2B2"/>
<rect x="1604.50" y="1208.40" width="52.40" height="157.60" fill="#E3E3E3"/>
<rect x="1683.10" y="1184.60" width="52.20" height="181.40" fill="#DCDDEB"/>
<line x1="1264.00" y1="1161.30" x2="1264.00" y2="1164.40" stroke="#000" stroke-width="3" stroke-linecap="butt"/>
<line x1="1251.00" y1="1161.30" x2="1277.00" y2="1161.30" stroke="#000" stroke-width="3" stroke-linecap="butt"/>
<line x1="1342.30" y1="1195.00" x2="1342.30" y2="1211.90" stroke="#A1A1A5" stroke-width="3" stroke-linecap="butt"/>
<line x1="1329.50" y1="1195.00" x2="1355.30" y2="1195.00" stroke="#A1A1A5" stroke-width="3" stroke-linecap="butt"/>
<line x1="1421.10" y1="1173.00" x2="1421.10" y2="1183.10" stroke="#9091C1" stroke-width="3" stroke-linecap="butt"/>
<line x1="1408.00" y1="1173.00" x2="1434.20" y2="1173.00" stroke="#9091C1" stroke-width="3" stroke-linecap="butt"/>
<line x1="1552.20" y1="1161.00" x2="1552.20" y2="1164.50" stroke="#000" stroke-width="3" stroke-linecap="butt"/>
<line x1="1539.00" y1="1161.00" x2="1565.50" y2="1161.00" stroke="#000" stroke-width="3" stroke-linecap="butt"/>
<line x1="1630.90" y1="1192.40" x2="1630.90" y2="1208.40" stroke="#A1A1A5" stroke-width="3" stroke-linecap="butt"/>
<line x1="1618.00" y1="1192.40" x2="1643.60" y2="1192.40" stroke="#A1A1A5" stroke-width="3" stroke-linecap="butt"/>
<line x1="1709.10" y1="1174.00" x2="1709.10" y2="1184.60" stroke="#9091C1" stroke-width="3" stroke-linecap="butt"/>
<line x1="1696.20" y1="1174.00" x2="1722.20" y2="1174.00" stroke="#9091C1" stroke-width="3" stroke-linecap="butt"/>
<circle cx="1244.00" cy="1159.30" r="6.2" fill="#000"/>
<circle cx="1270.50" cy="1158.20" r="6.2" fill="#000"/>
<circle cx="1283.70" cy="1164.40" r="6.2" fill="#000"/>
<circle cx="1244.00" cy="1171.50" r="6.2" fill="#000"/>
<circle cx="1270.50" cy="1171.50" r="6.2" fill="#000"/>
<circle cx="1342.30" cy="1168.00" r="6.2" fill="#A1A1A5"/>
<circle cx="1355.10" cy="1196.00" r="6.2" fill="#A1A1A5"/>
<circle cx="1330.00" cy="1201.70" r="6.2" fill="#A1A1A5"/>
<circle cx="1342.40" cy="1230.00" r="6.2" fill="#A1A1A5"/>
<circle cx="1342.40" cy="1262.30" r="6.2" fill="#A1A1A5"/>
<circle cx="1421.10" cy="1149.80" r="6.2" fill="#9091C1"/>
<circle cx="1421.10" cy="1173.00" r="6.2" fill="#9091C1"/>
<circle cx="1409.10" cy="1188.80" r="6.2" fill="#9091C1"/>
<circle cx="1433.30" cy="1193.00" r="6.2" fill="#9091C1"/>
<circle cx="1421.10" cy="1209.90" r="6.2" fill="#9091C1"/>
<circle cx="1531.80" cy="1162.40" r="6.2" fill="#000"/>
<circle cx="1551.80" cy="1165.00" r="6.2" fill="#000"/>
<circle cx="1572.30" cy="1154.00" r="6.2" fill="#000"/>
<circle cx="1572.30" cy="1166.70" r="6.2" fill="#000"/>
<circle cx="1531.80" cy="1175.10" r="6.2" fill="#000"/>
<circle cx="1630.90" cy="1171.30" r="6.2" fill="#A1A1A5"/>
<circle cx="1642.90" cy="1187.10" r="6.2" fill="#A1A1A5"/>
<circle cx="1618.20" cy="1193.00" r="6.2" fill="#A1A1A5"/>
<circle cx="1630.90" cy="1234.80" r="6.2" fill="#A1A1A5"/>
<circle cx="1630.90" cy="1254.80" r="6.2" fill="#A1A1A5"/>
<circle cx="1709.10" cy="1151.90" r="6.2" fill="#9091C1"/>
<circle cx="1709.10" cy="1171.90" r="6.2" fill="#9091C1"/>
<circle cx="1709.10" cy="1186.30" r="6.2" fill="#9091C1"/>
<circle cx="1721.30" cy="1202.90" r="6.2" fill="#9091C1"/>
<circle cx="1696.90" cy="1208.40" r="6.2" fill="#9091C1"/>
<text x="1345.40" y="1148.60" font-size="50.4" text-anchor="middle" fill="#000" stroke="#000">*</text>
<text x="1634.20" y="1149.30" font-size="50.4" text-anchor="middle" fill="#000" stroke="#000">*</text>
<text x="1335.70" y="1425.80" font-size="29.1" text-anchor="middle" fill="#000" stroke="#000" word-spacing="0">Basal respiration</text>
<text x="1335.6" y="1460.9" font-size="29.33" text-anchor="middle" stroke="#000">= <tspan fill="#6B7A1E" stroke="#6B7A1E">P/M ADP</tspan> - <tspan fill="#C3A08F" stroke="#C3A08F">AA</tspan></text>
<text x="1627.40" y="1426.60" font-size="29.33" text-anchor="middle" fill="#000" stroke="#000" word-spacing="1.2">ATP coupled</text>
<text x="1627.7" y="1461.9" font-size="29.33" text-anchor="middle" stroke="#000">= <tspan fill="#6B7A1E" stroke="#6B7A1E">P/M ADP</tspan> - <tspan fill="#A50034" stroke="#A50034">Oligo</tspan></text>
</svg>
</body>
</html>
